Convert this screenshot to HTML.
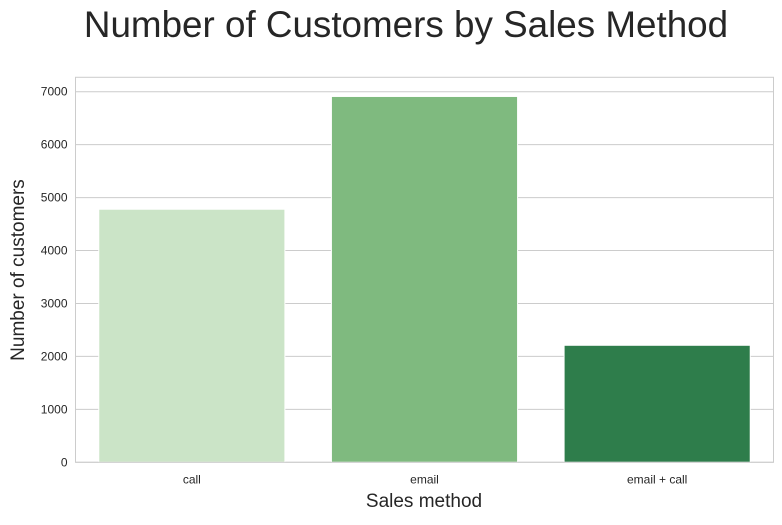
<!DOCTYPE html>
<html><head><meta charset="utf-8"><style>
body{margin:0;background:#fff;font-family:"Liberation Sans",sans-serif}
</style></head><body>
<svg id="chart" width="782" height="520">
<text x="406" y="37" text-anchor="middle" font-size="36.8" fill="#262626" font-family="Liberation Sans, sans-serif">Number of Customers by Sales Method</text>
<g id="grid"></g><g id="bars"></g><g id="axes"></g>
<text x="424" y="507" text-anchor="middle" font-size="19" fill="#262626">Sales method</text>
<text transform="translate(24,270) rotate(-90)" text-anchor="middle" font-size="19" fill="#262626">Number of customers</text>
</svg>
<script>
const categories=["call","email","email + call"];
const values=[4780,6910,2210];
const colors=["#cbe4c7","#7fba7f","#2e7d4b"];
const yTicks=[0,1000,2000,3000,4000,5000,6000,7000];
const L=75.5,R=773.5,T=77.3,B=462.3,yMax=7272;
const ns="http://www.w3.org/2000/svg";
const y=v=>B-(v/yMax)*(B-T);
const bw=(R-L)/categories.length;
const x=i=>L+bw*i;
function mk(tag,attrs,parent){const e=document.createElementNS(ns,tag);for(const k in attrs)e.setAttribute(k,attrs[k]);parent.appendChild(e);return e;}
const grid=document.getElementById('grid'),bars=document.getElementById('bars'),axes=document.getElementById('axes');
yTicks.forEach(t=>{
  const l=mk('line',{x1:L,x2:R,y1:y(t),y2:y(t),stroke:'#cccccc','stroke-width':1},grid);
  
  
  const tx=mk('text',{x:L-8,y:y(t)+4,'text-anchor':'end','font-size':12,fill:'#262626'},axes);
  tx.textContent=t;
  
  
});
categories.forEach((c,i)=>{
  const r=mk('rect',{x:x(i)+bw*0.1,y:y(values[i]),width:bw*0.8,height:B-y(values[i]),fill:colors[i],stroke:'#ffffff','stroke-width':1},bars);
  
  
  const tx=mk('text',{x:x(i)+bw/2,y:B+21,'text-anchor':'middle','font-size':12,fill:'#262626'},axes);
  tx.textContent=c;
  
  
});
const f=mk('rect',{x:L,y:T,width:R-L,height:B-T,fill:'none',stroke:'#cccccc','stroke-width':1},axes);


</script>
</body></html>
